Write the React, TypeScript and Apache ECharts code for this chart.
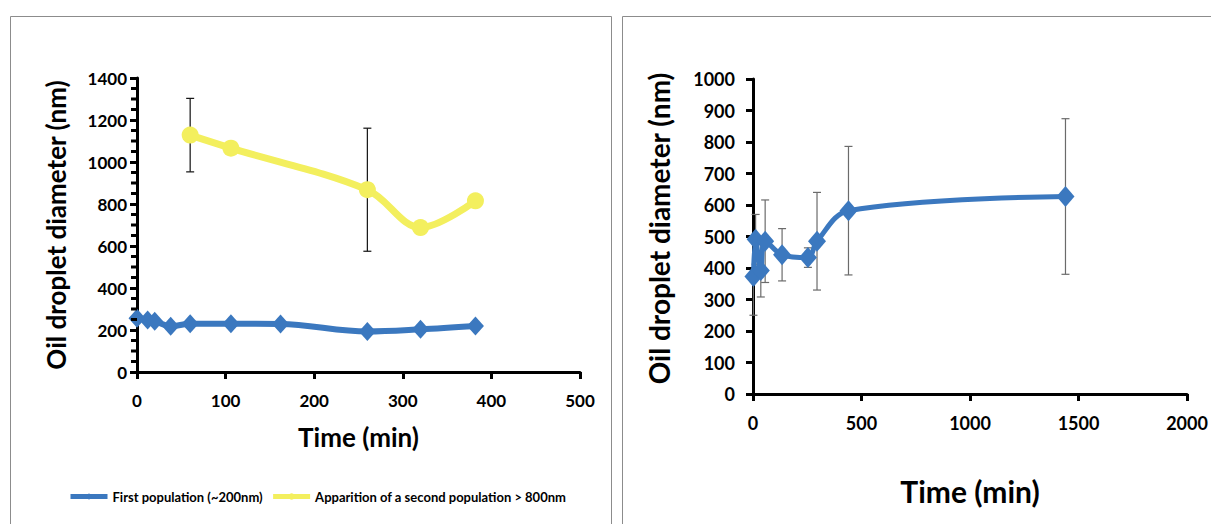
import React, { useEffect, useRef } from "react";
import * as echarts from "echarts";

// Left panel: first population (~200 nm)
const leftTime = [0, 12, 20, 38, 60, 106, 162, 260, 320, 382];
const firstPop = [256, 248, 242, 218, 230, 230, 229, 193, 203, 219];
// Left panel: second population (> 800 nm)
const secondTime = [60, 106, 260, 320, 382];
const secondPop = [1128, 1066, 868, 688, 815];
const secondErr = [175, 0, 293, 0, 0];
// Right panel
const rightTime = [2, 12, 36, 56, 134, 253, 295, 440, 1440];
const rightDiam = [373, 491, 392, 485, 442, 433, 485, 582, 627];
const rightErr = [123, 79, 84, 131, 83, 31, 155, 204, 247];

const leftXTicks = { min: 0, max: 500, interval: 100 };
const leftYTicks = { min: 0, max: 1400, interval: 200 };
const leftYMinorStep = 50;
const rightXTicks = { min: 0, max: 2000, interval: 500 };
const rightYTicks = { min: 0, max: 1000, interval: 100 };

const FONT = "Lato";
const BLUE = "#3b78bf";
const YELLOW = "#f3ef5e";

function errRender(color: string) {
  return (params: any, api: any) => {
    const x = api.value(0);
    const y = api.value(1);
    const e = api.value(2);
    if (!e) return null;
    const top = api.coord([x, y + e]);
    const bot = api.coord([x, y - e]);
    const w = 4;
    const style = { stroke: color, lineWidth: 1.2 };
    return {
      type: "group",
      children: [
        { type: "line", shape: { x1: top[0], y1: top[1], x2: bot[0], y2: bot[1] }, style },
        { type: "line", shape: { x1: top[0] - w, y1: top[1], x2: top[0] + w, y2: top[1] }, style },
        { type: "line", shape: { x1: bot[0] - w, y1: bot[1], x2: bot[0] + w, y2: bot[1] }, style },
      ],
    };
  };
}

function minorTickRender(params: any, api: any) {
  const p = api.coord([api.value(0), api.value(1)]);
  return {
    type: "line",
    shape: { x1: p[0] - 6, y1: p[1], x2: p[0], y2: p[1] },
    style: { stroke: "#000", lineWidth: 3 },
  };
}

const plain = (v: number) => String(v);

export default function App() {
  const ref = useRef<HTMLDivElement>(null);
  useEffect(() => {
    const chart = echarts.init(ref.current!, null, { renderer: "svg" });
    const axisLine = { show: true, lineStyle: { color: "#000", width: 3 } };
    const axisTick = { show: true, length: 7, lineStyle: { color: "#000", width: 3 } };
    const tickFont = (size: number, margin: number) => ({
      fontFamily: FONT, fontSize: size, fontWeight: "bold", color: "#000", margin, formatter: plain,
    });
    const minorTicks: number[][] = [];
    for (let v = leftYTicks.min; v <= leftYTicks.max; v += leftYMinorStep) {
      if (v % leftYTicks.interval !== 0) minorTicks.push([leftXTicks.min, v]);
    }
    const option: any = {
      animation: false,
      backgroundColor: "#fff",
      graphic: [
        { type: "rect", shape: { x: 10.5, y: 16.5, width: 601, height: 530 }, style: { fill: "none", stroke: "#8c8c8c", lineWidth: 1 }, silent: true },
        { type: "rect", shape: { x: 622.5, y: 16.5, width: 600, height: 530 }, style: { fill: "none", stroke: "#8c8c8c", lineWidth: 1 }, silent: true },
      ],
      legend: {
        left: 63,
        top: 485,
        itemWidth: 37,
        itemHeight: 8,
        itemGap: 8,
        data: [
          { name: "First population (~200nm)", lineStyle: { width: 5 } },
          { name: "Apparition of a second population > 800nm", lineStyle: { width: 5 } },
        ],
        textStyle: { fontFamily: FONT, fontSize: 13, fontWeight: "bold", color: "#000" },
      },
      grid: [
        { left: 137, top: 78, width: 443, height: 294 },
        { left: 753, top: 79, width: 434, height: 315 },
      ],
      xAxis: [
        {
          gridIndex: 0, type: "value", ...leftXTicks,
          name: "Time (min)", nameLocation: "middle", nameGap: 52,
          nameTextStyle: { fontFamily: FONT, fontSize: 26, fontWeight: "bold", color: "#000" },
          axisLine, axisTick, splitLine: { show: false },
          axisLabel: tickFont(17, 20),
        },
        {
          gridIndex: 1, type: "value", ...rightXTicks,
          name: "Time (min)", nameLocation: "middle", nameGap: 82,
          nameTextStyle: { fontFamily: FONT, fontSize: 30, fontWeight: "bold", color: "#000" },
          axisLine, axisTick, splitLine: { show: false },
          axisLabel: tickFont(18, 20),
        },
      ],
      yAxis: [
        {
          gridIndex: 0, type: "value", ...leftYTicks,
          name: "Oil droplet diameter (nm)", nameLocation: "middle", nameGap: 68,
          nameTextStyle: { fontFamily: FONT, fontSize: 26, fontWeight: "bold", color: "#000" },
          axisLine, axisTick, splitLine: { show: false },
          axisLabel: tickFont(17, 10),
        },
        {
          gridIndex: 1, type: "value", ...rightYTicks,
          name: "Oil droplet diameter (nm)", nameLocation: "middle", nameGap: 80,
          nameTextStyle: { fontFamily: FONT, fontSize: 28, fontWeight: "bold", color: "#000", padding: [0, 0, 0, 16] },
          axisLine, axisTick, splitLine: { show: false },
          axisLabel: tickFont(18, 18),
        },
      ],
      series: [
        {
          type: "custom", xAxisIndex: 0, yAxisIndex: 0, z: 5, silent: true, clip: false,
          renderItem: minorTickRender,
          data: minorTicks,
          encode: { x: 0, y: 1 },
        },
        {
          type: "custom", xAxisIndex: 0, yAxisIndex: 0, z: 1, silent: true,
          renderItem: errRender("#111"),
          data: secondTime.map((t, i) => [t, secondPop[i], secondErr[i]]),
          encode: { x: 0, y: 1 },
        },
        {
          type: "custom", xAxisIndex: 1, yAxisIndex: 1, z: 1, silent: true,
          renderItem: errRender("#6b6b6b"),
          data: rightTime.map((t, i) => [t, rightDiam[i], rightErr[i]]),
          encode: { x: 0, y: 1 },
        },
        {
          name: "First population (~200nm)", type: "line", xAxisIndex: 0, yAxisIndex: 0, z: 3,
          data: leftTime.map((t, i) => [t, firstPop[i]]),
          smooth: 0.35, clip: false,
          symbol: "diamond", symbolSize: [17, 19],
          lineStyle: { color: BLUE, width: 6 }, itemStyle: { color: BLUE },
        },
        {
          name: "Apparition of a second population > 800nm", type: "line", xAxisIndex: 0, yAxisIndex: 0, z: 3,
          data: secondTime.map((t, i) => [t, secondPop[i]]),
          smooth: 0.35, clip: false,
          symbol: "circle", symbolSize: 17,
          lineStyle: { color: YELLOW, width: 7 }, itemStyle: { color: YELLOW },
        },
        {
          name: "Right", type: "line", xAxisIndex: 1, yAxisIndex: 1, z: 3,
          data: rightTime.map((t, i) => [t, rightDiam[i]]),
          smooth: 0.35, clip: false,
          symbol: "diamond", symbolSize: [18, 21],
          lineStyle: { color: BLUE, width: 5 }, itemStyle: { color: BLUE },
        },
      ],
    };
    chart.setOption(option);
    return () => chart.dispose();
  }, []);
  return (
    <div
      ref={ref}
      style={{ position: "absolute", left: 0, top: 0, width: 1211, height: 524, background: "#fff" }}
    />
  );
}
